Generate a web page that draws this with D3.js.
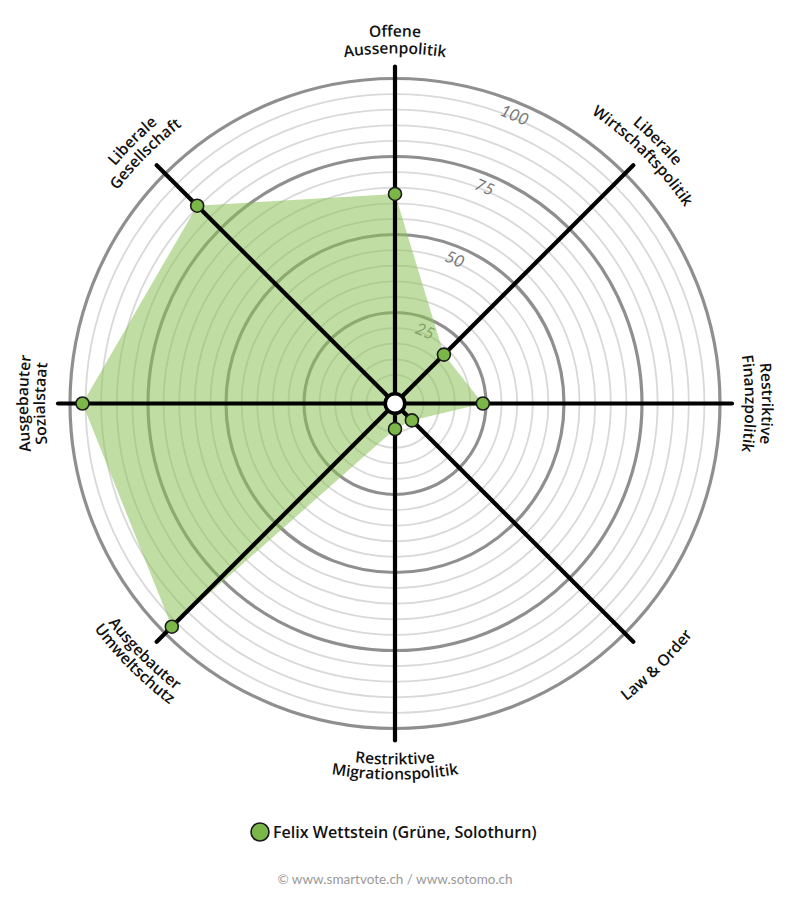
<!DOCTYPE html>
<html><head><meta charset="utf-8">
<script src="https://cdn.jsdelivr.net/npm/d3@7"></script>
<style>
html,body{margin:0;padding:0;background:#fff;}
svg{display:block;}
</style></head>
<body>
<script>
// ---- data ----
const categories = ["Offene Aussenpolitik","Liberale Wirtschaftspolitik","Restriktive Finanzpolitik","Law & Order","Restriktive Migrationspolitik","Ausgebauter Umweltschutz","Ausgebauter Sozialstaat","Liberale Gesellschaft"];
const labelLines = [["Offene","Aussenpolitik"],["Liberale","Wirtschaftspolitik"],["Restriktive","Finanzpolitik"],["Law & Order"],["Restriktive","Migrationspolitik"],["Ausgebauter","Umweltschutz"],["Ausgebauter","Sozialstaat"],["Liberale","Gesellschaft"]];
const values = [63, 18, 24, 3.5, 4, 97, 96, 85.5];
const seriesName = "Felix Wettstein (Grüne, Solothurn)";
const gridValues = d3.range(5, 101, 5);
const tickLabels = [25, 50, 75, 100];
const footer = "© www.smartvote.ch / www.sotomo.ch";

// ---- layout ----
const W = 790, H = 899, cx = 395, cy = 403.5;
const font = "Lato, 'Open Sans', sans-serif";
const labFont = "'Open Sans', Lato, sans-serif";
const r = d3.scaleLinear().domain([0, 100]).range([13, 325]);
const ang = d3.scaleLinear().domain([0, categories.length]).range([0, 2 * Math.PI]);
const pt = (a, rad) => [cx + rad * Math.sin(a), cy - rad * Math.cos(a)];

const svg = d3.select("body").append("svg").attr("width", W).attr("height", H);

// grid circles
svg.append("g").selectAll("circle").data(gridValues).join("circle")
  .attr("cx", cx).attr("cy", cy).attr("r", d => r(d))
  .attr("fill", "none")
  .attr("stroke", d => d % 25 === 0 ? "#8f8f8f" : "#d9d9d9")
  .attr("stroke-width", d => d % 25 === 0 ? 3.2 : 1.8);

// tick labels
svg.append("g").selectAll("text").data(tickLabels).join("text")
  .attr("transform", d => { const a = Math.PI / 8; const p = pt(a, r(d) - 12.5); return `translate(${p[0]},${p[1]}) rotate(22.5)`; })
  .attr("text-anchor", "middle").attr("dominant-baseline", "central")
  .attr("font-family", font).attr("font-style", "italic").attr("font-size", 16.5)
  .attr("fill", "#777").text(d => d);

// polygon
const line = d3.lineRadial().angle((d, i) => ang(i)).radius(d => r(d)).curve(d3.curveLinearClosed);
svg.append("path").attr("transform", `translate(${cx},${cy})`)
  .attr("d", line(values)).attr("fill", "#8dc25a").attr("fill-opacity", 0.55);

// axes
svg.append("g").selectAll("line").data(categories).join("line")
  .attr("x1", cx).attr("y1", cy)
  .attr("x2", (d, i) => pt(ang(i), 337)[0]).attr("y2", (d, i) => pt(ang(i), 337)[1])
  .attr("stroke", "#000").attr("stroke-width", 4.2).attr("stroke-linecap", "round");

// points
svg.append("g").selectAll("circle").data(values).join("circle")
  .attr("cx", (d, i) => pt(ang(i), r(d))[0]).attr("cy", (d, i) => pt(ang(i), r(d))[1])
  .attr("r", 6.5).attr("fill", "#7ab648").attr("stroke", "#1a1a1a").attr("stroke-width", 1.6);

// center
svg.append("circle").attr("cx", cx).attr("cy", cy).attr("r", 9.8)
  .attr("fill", "#fff").attr("stroke", "#000").attr("stroke-width", 3.6);

// axis labels on arcs
const defs = svg.append("defs");
const lab = svg.append("g");
categories.forEach((c, i) => {
  const a = ang(i);
  const lines = labelLines[i];
  const bottom = a > Math.PI / 2 + 0.01 && a < 3 * Math.PI / 2 - 0.01;
  let radii = bottom ? (lines.length === 1 ? [377] : [361, 376]) : [367, 350];
  lines.forEach((t, j) => {
    const R = radii[j];
    const span = Math.PI / 3;
    let d;
    if (!bottom) {
      const p1 = pt(a - span, R), p2 = pt(a + span, R);
      d = `M${p1[0]},${p1[1]} A${R},${R} 0 0 1 ${p2[0]},${p2[1]}`;
    } else {
      const p1 = pt(a + span, R), p2 = pt(a - span, R);
      d = `M${p1[0]},${p1[1]} A${R},${R} 0 0 0 ${p2[0]},${p2[1]}`;
    }
    const id = `lp${i}_${j}`;
    defs.append("path").attr("id", id).attr("d", d);
    lab.append("text").attr("font-family", labFont).attr("font-weight", 600).attr("font-size", 15.6)
      .attr("fill", "#111")
      .append("textPath").attr("href", "#" + id).attr("startOffset", "50%").attr("text-anchor", "middle")
      .text(t);
  });
});

// legend
const lg = svg.append("g");
lg.append("circle").attr("cx", 260).attr("cy", 832).attr("r", 9)
  .attr("fill", "#7ab648").attr("stroke", "#1a1a1a").attr("stroke-width", 1.6);
lg.append("text").attr("x", 273).attr("y", 832).attr("dominant-baseline", "central")
  .attr("font-family", labFont).attr("font-weight", 600).attr("font-size", 16.1).attr("fill", "#111")
  .text(seriesName);

svg.append("text").attr("x", 395).attr("y", 879).attr("text-anchor", "middle").attr("dominant-baseline", "central")
  .attr("font-family", font).attr("font-size", 13.5).attr("fill", "#999").text(footer);
</script>
</body></html>
